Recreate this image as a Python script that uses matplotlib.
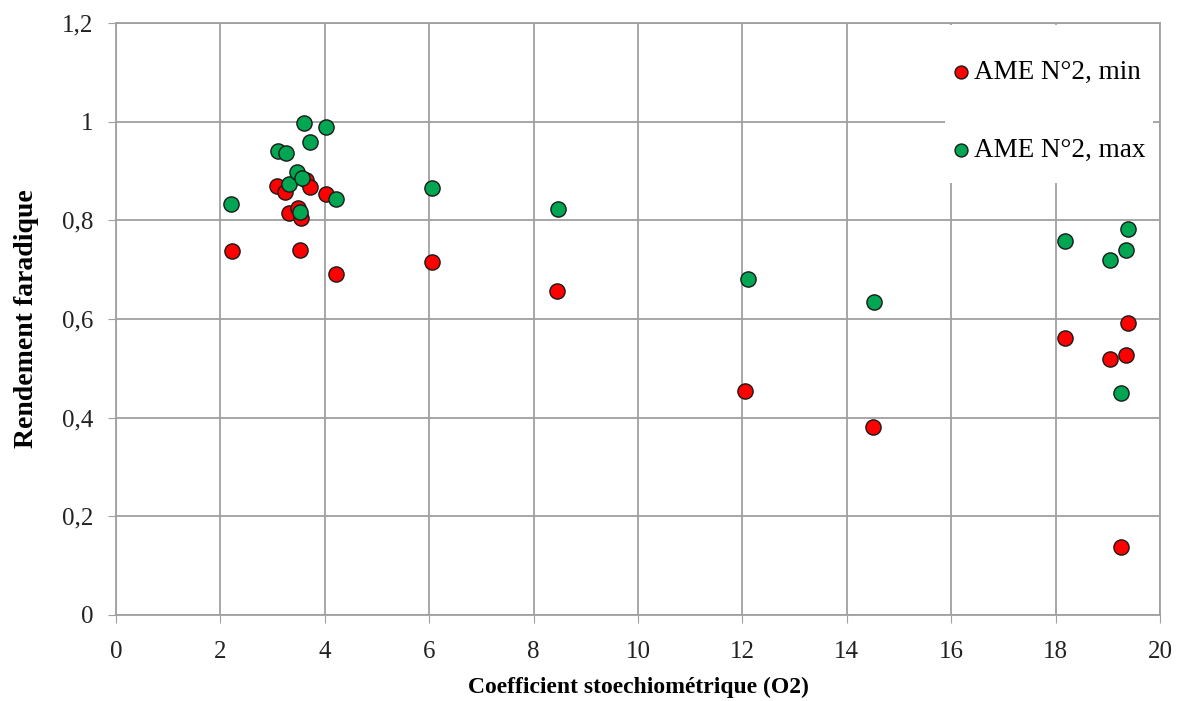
import matplotlib.pyplot as plt
from matplotlib.patches import Rectangle
from matplotlib.ticker import FuncFormatter, MultipleLocator

# AME N°2 - rendement faradique vs coefficient stoechiometrique (O2)
x_min = [2.22, 3.08, 3.23, 3.32, 3.48, 3.52, 3.55, 3.64, 3.72, 4.03, 4.22,
         6.05, 8.45, 12.05, 14.5, 18.19, 19.04, 19.25, 19.34, 19.38]
y_min = [0.739, 0.869, 0.857, 0.815, 0.825, 0.740, 0.805, 0.882, 0.867, 0.853, 0.691,
         0.715, 0.657, 0.454, 0.381, 0.562, 0.519, 0.138, 0.528, 0.593]

x_max = [2.21, 3.11, 3.25, 3.32, 3.46, 3.52, 3.56, 3.60, 3.71, 4.03, 4.22,
         6.05, 8.47, 12.1, 14.52, 18.19, 19.04, 19.25, 19.34, 19.38]
y_max = [0.833, 0.941, 0.937, 0.873, 0.898, 0.818, 0.885, 0.997, 0.958, 0.989, 0.844,
         0.865, 0.823, 0.681, 0.634, 0.758, 0.719, 0.451, 0.740, 0.782]

labels = ["AME N°2, min", "AME N°2, max"]

serif = 'Liberation Serif'

fig = plt.figure(figsize=(11.88, 7.01), dpi=100)
ax = fig.add_axes([0.0976, 0.1227, 0.8788, 0.8443])

ax.scatter(x_min, y_min, s=120, color='#FF0000', edgecolors='#1a1a1a', linewidths=1, label=labels[0], zorder=3)
ax.scatter(x_max, y_max, s=120, color='#00A651', edgecolors='#1a1a1a', linewidths=1, label=labels[1], zorder=3)

ax.set_xlim(0, 20)
ax.set_ylim(0, 1.2)
ax.xaxis.set_major_locator(MultipleLocator(2))
ax.yaxis.set_major_locator(MultipleLocator(0.2))
ax.yaxis.set_major_formatter(FuncFormatter(lambda v, p: ('%g' % round(v, 1)).replace('.', ',')))

ax.grid(True, color='#a0a0a0', linewidth=1.3)
ax.set_axisbelow(True)
for s in ax.spines.values():
    s.set_color('#a0a0a0')
    s.set_linewidth(1.3)
ax.tick_params(direction='out', length=6, color='#a0a0a0', labelsize=18, labelcolor='#222222')
ax.tick_params(axis='y', pad=10)
ax.tick_params(axis='x', pad=13)
for t in ax.get_xticklabels() + ax.get_yticklabels():
    t.set_family(serif)

ax.set_xlabel("Coefficient stoechiométrique (O2)", family=serif, fontweight='bold', fontsize=17, labelpad=10)
ax.set_ylabel("Rendement faradique", family=serif, fontweight='bold', fontsize=20, labelpad=17)

# white legend area hiding the grid
ax.add_patch(Rectangle((0.794, 0.730), 0.199, 0.267, transform=ax.transAxes,
                       facecolor='white', edgecolor='none', zorder=2))
leg = ax.legend(loc='upper left', bbox_to_anchor=(0.7885, 0.9600), prop={'family': serif, 'size': 19.5},
                frameon=False, labelspacing=1.95, handletextpad=0.2, borderpad=0,
                handlelength=0.6, markerscale=0.85)

plt.savefig('out.png')
